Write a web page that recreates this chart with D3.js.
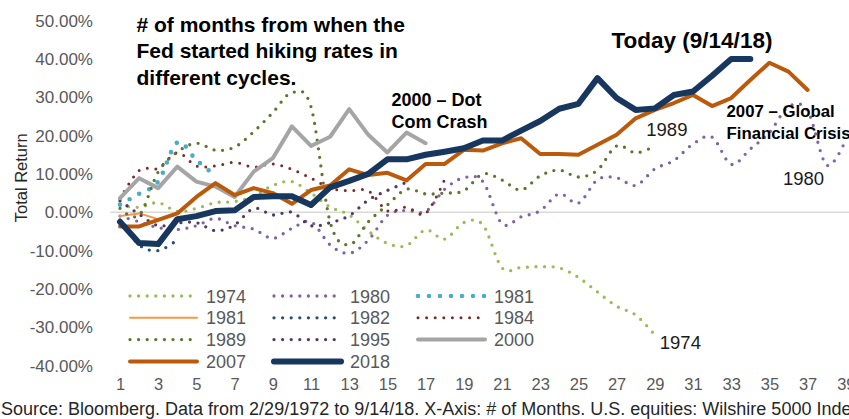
<!DOCTYPE html>
<html>
<head>
<meta charset="utf-8">
<script src="https://cdn.jsdelivr.net/npm/d3@7"></script>
<style>
    body { margin: 0; background: #fff; }
    svg { font-family: "Liberation Sans", Arial, sans-serif; }
</style>
</head>
<body>
<div id="chart"></div>
<script>
// x axis: # of months since the first hike
var xTicks = [1, 3, 5, 7, 9, 11, 13, 15, 17, 19, 21, 23, 25, 27, 29, 31, 33, 35, 37, 39];
var yTicks = [50, 40, 30, 20, 10, 0, -10, -20, -30, -40];

// total return (%) by month, one list per hiking cycle
var s1974 = [1.8, 1.3, 2.5, 0.2, 1.0, 2.5, 2.8, 4.2, 7.0, 8.0, 5.0, 1.4, -0.7, -4.9, -8.1, -8.7, -4.6, -7.0, -2.7, -3.3, -14.5, -14.4, -14.2, -14.5, -17.0, -20.8, -24.5, -26.8, -32.0];
var s1980 = [-1.0, -2.5, -4.0, -4.5, -3.5, -1.6, -3.5, -4.4, -6.8, -4.2, -2.5, -8.5, -10.7, -7.3, -0.8, 0.5, 0.2, 6.0, 9.0, 8.0, -3.0, -1.2, 0.4, 4.8, 2.4, 8.5, 9.0, 7.0, 11.3, 13.5, 17.8, 19.6, 12.5, 16.5, 20.8, 27.5, 26.5, 12.3, 18.9];
var s1981a = [2.0, 4.8, 8.0, 18.2, 13.6, 9.5];
var s1981b = [-1.0, -0.3, -1.8];
var s1982 = [-2.0, -8.5, -10.0, -7.2];
var s1984 = [3.5, 10.9, 11.5, 15.5, 12.1, 12.1, 13.0, 11.8, 12.6, 11.2, 8.9, 6.3, 5.6, 5.6, 0.4, 1.3, -0.3, 8.6];
var s1989 = [1.0, -0.8, 10.5, 15.7, 18.0, 16.2, 17.0, 21.0, 26.0, 31.2, 27.5, -2.5, -8.5, -2.5, 1.9, 6.0, 4.8, 5.0, 5.6, 10.0, 8.4, 5.8, 9.5, 11.0, 9.2, 11.0, 17.3, 15.5, 17.3];
var s1995 = [3.0, -0.5, -3.5, -2.8, -2.7, -4.8, -3.3, 1.0, -0.7, 0.0, -3.5, -2.7, -0.9, 3.2, 5.7, 7.8];
var s2000 = [3.7, 8.9, 6.3, 11.9, 8.0, 6.7, 4.0, 10.6, 14.1, 22.4, 17.3, 19.7, 26.9, 20.2, 15.6, 20.8, 18.0];
var s2007 = [-3.7, -3.7, -2.0, -0.3, 4.0, 7.6, 4.5, 6.3, 5.0, 2.2, 5.8, 7.0, 11.2, 9.7, 10.3, 8.3, 12.6, 12.6, 16.3, 16.1, 18.0, 19.3, 15.2, 15.2, 15.0, 17.6, 20.2, 24.5, 26.7, 28.5, 30.6, 27.7, 29.8, 34.5, 39.0, 36.7, 31.9];
var s2018 = [-2.5, -8.0, -8.3, -1.8, -1.0, 0.3, 0.5, 4.0, 4.2, 4.2, 1.9, 6.5, 8.2, 10.0, 13.8, 13.8, 15.0, 15.8, 16.7, 18.7, 18.7, 21.3, 23.8, 27.0, 28.3, 35.0, 29.8, 26.7, 27.1, 30.6, 31.5, 35.6, 40.0, 40.0];

var seriesNames = ["1974", "1980", "1981", "1981", "1982", "1984", "1989", "1995", "2000", "2007", "2018"];
var seriesValues = [s1974, s1980, s1981a, s1981b, s1982, s1984, s1989, s1995, s2000, s2007, s2018];

// look of each series, same order as above
var styles = [
    { color: "#9bbb59", width: 3.3, dash: "0,8.6", smooth: true },
    { color: "#8064a2", width: 3.3, dash: "0,8.6", smooth: true },
    { color: "#4bacc6", width: 4.6, dash: "0,11", smooth: true },
    { color: "#f79646", width: 2, dash: null, smooth: false },
    { color: "#2c4d75", width: 3.3, dash: "0,8.6", smooth: true },
    { color: "#772c2a", width: 3, dash: "0,8.6", smooth: true },
    { color: "#5f7530", width: 3.3, dash: "0,8.6", smooth: true },
    { color: "#4d3b62", width: 3.3, dash: "0,8.6", smooth: true },
    { color: "#a5a5a5", width: 4, dash: null, smooth: false },
    { color: "#bb5a0a", width: 4, dash: null, smooth: false },
    { color: "#17375e", width: 6, dash: null, smooth: false }
];

var width = 849, height = 419;

var svg = d3.select("#chart")
    .append("svg")
    .attr("width", width)
    .attr("height", height);

var x = d3.scaleLinear()
    .domain([1, 39])
    .range([120, 845.8]);

var y = d3.scaleLinear()
    .domain([-40, 50])
    .range([365.6, 20.6]);

// y axis labels (no axis line)
var yAxis = svg.append("g")
    .attr("transform", "translate(93,0)")
    .call(d3.axisLeft(y).tickValues(yTicks).tickSize(0).tickPadding(0)
        .tickFormat(function (d) { return d.toFixed(2) + "%"; }));
yAxis.select(".domain").remove();
yAxis.selectAll("text")
    .attr("fill", "#595959")
    .style("font-size", "17px");

// x axis labels, placed under the legend
var xAxis = svg.append("g")
    .attr("transform", "translate(0,378)")
    .call(d3.axisBottom(x).tickValues(xTicks).tickSize(0).tickPadding(0));
xAxis.select(".domain").remove();
xAxis.selectAll("text")
    .attr("fill", "#595959")
    .attr("dy", "0.71em")
    .style("font-size", "16.5px");

// zero line
svg.append("line")
    .attr("x1", x(0.5))
    .attr("x2", x(39.5))
    .attr("y1", y(0))
    .attr("y2", y(0))
    .attr("stroke", "#d9d9d9")
    .attr("stroke-width", 1.5);

svg.append("text")
    .attr("transform", "translate(27," + y(9) + ")rotate(-90)")
    .attr("text-anchor", "middle")
    .attr("fill", "#262626")
    .style("font-size", "16.5px")
    .text("Total Return");

// the lines
seriesValues.forEach(function (vals, i) {
    var st = styles[i];
    var line = d3.line()
        .x(function (d, j) { return x(j + 1); })
        .y(function (d) { return y(d); })
        .curve(st.smooth ? d3.curveCardinal.tension(0) : d3.curveLinear);
    svg.append("path")
        .datum(vals)
        .attr("d", line)
        .attr("fill", "none")
        .attr("stroke", st.color)
        .attr("stroke-width", st.width)
        .attr("stroke-linecap", "round")
        .attr("stroke-linejoin", "round")
        .attr("stroke-dasharray", st.dash);
});

// legend, 3 per row
var legend = svg.append("g");
seriesNames.forEach(function (name, i) {
    var st = styles[i];
    var col = i % 3, row = Math.floor(i / 3);
    var lx = 130 + col * 144, ly = 296 + row * 21.8;
    legend.append("line")
        .attr("x1", lx)
        .attr("x2", lx + 67)
        .attr("y1", ly)
        .attr("y2", ly)
        .attr("stroke", st.color)
        .attr("stroke-width", st.width)
        .attr("stroke-linecap", "round")
        .attr("stroke-dasharray", st.dash);
    legend.append("text")
        .attr("x", lx + 76)
        .attr("y", ly + 6.5)
        .attr("fill", "#595959")
        .style("font-size", "18px")
        .text(name);
});

// annotations
var title = ["# of months from when the", "Fed started hiking rates in", "different cycles."];
svg.append("g").selectAll("text")
    .data(title)
    .enter()
    .append("text")
    .attr("x", 136.5)
    .attr("y", function (d, i) { return 31.5 + i * 26.5; })
    .attr("font-weight", "bold")
    .attr("fill", "#000")
    .style("font-size", "21px")
    .text(function (d) { return d; });

svg.append("text")
    .attr("x", 611.5)
    .attr("y", 47.7)
    .attr("font-weight", "bold")
    .style("font-size", "22.5px")
    .text("Today (9/14/18)");

function twoLines(tx, ty, lines, size) {
    svg.append("g").selectAll("text")
        .data(lines)
        .enter()
        .append("text")
        .attr("x", tx)
        .attr("y", function (d, i) { return ty + i * 22; })
        .attr("font-weight", "bold")
        .style("font-size", size)
        .text(function (d) { return d; });
}
twoLines(391.5, 106, ["2000 \u2013 Dot", "Com Crash"], "18px");
twoLines(726.5, 116.5, ["2007 \u2013 Global", "Financial Crisis"], "16.8px");

// end labels for a few cycles
var endLabels = [
    { t: "1989", m: 29, v: 17.3, dx: -8.5, dy: -9.5 },
    { t: "1980", m: 36, v: 7, dx: -5.5, dy: 0 },
    { t: "1974", m: 29, v: -32, dx: 5, dy: 14 }
];
endLabels.forEach(function (d) {
    svg.append("text")
        .attr("x", x(d.m) + d.dx)
        .attr("y", y(d.v) + d.dy)
        .attr("fill", "#1a1a1a")
        .style("font-size", "18.5px")
        .text(d.t);
});

svg.append("text")
    .attr("x", 1)
    .attr("y", 415)
    .attr("fill", "#262626")
    .style("font-size", "18px")
    .text("Source: Bloomberg. Data from 2/29/1972 to 9/14/18. X-Axis: # of Months. U.S. equities: Wilshire 5000 Index");
</script>
</body>
</html>
